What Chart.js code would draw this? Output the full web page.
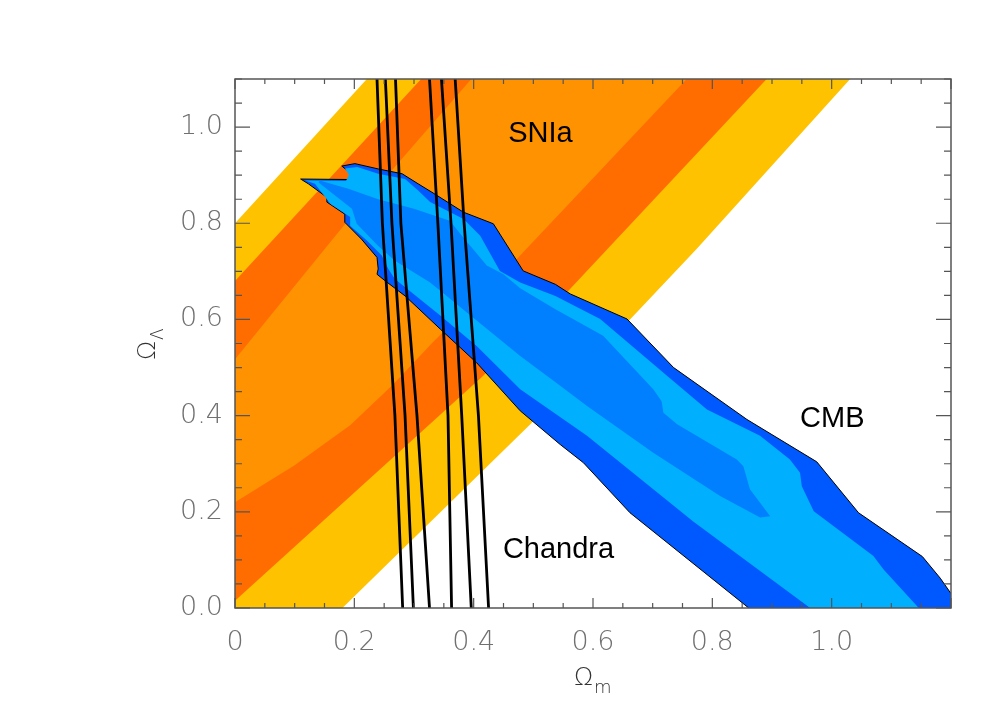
<!DOCTYPE html>
<html>
<head>
<meta charset="utf-8">
<script src="https://cdn.jsdelivr.net/npm/chart.js@4/dist/chart.umd.min.js"></script>
<style>
  html, body { margin: 0; background: #fff; }
</style>
</head>
<body>
<canvas id="chart" width="999" height="706"></canvas>
<script>
// --- data (Omega_m, Omega_Lambda) ---

// SNIa confidence bands, outer (99%) to inner (68%)
const sniaOuter = [[-0.1, 0.66], [0, 0.8], [0.221, 1.1], [0.26, 1.16], [1.075, 1.16], [1.031, 1.1],
  [0.774, 0.747], [0.662, 0.6], [0.495, 0.382], [0.18, 0], [0.1, -0.1], [-0.1, -0.1]];
const sniaMid = [[-0.1, 0.545], [0, 0.68], [0.312, 1.1], [0.35, 1.16], [0.93, 1.16], [0.891, 1.1],
  [0.556, 0.656], [0.416, 0.483], [0, 0.015], [-0.1, -0.1]];
const sniaInner = [[-0.1, 0.37], [0, 0.517], [0.182, 0.795], [0.396, 1.1], [0.44, 1.16], [0.81, 1.16],
  [0.757, 1.1], [0.472, 0.725], [0.332, 0.553], [0.265, 0.465], [0.193, 0.38], [0.1, 0.297],
  [0, 0.22], [-0.1, 0.15]];

// CMB contours
const cmbOuter = [[0.110, 0.892], [0.190, 0.891], [0.195, 0.903], [0.179, 0.919], [0.201, 0.924],
  [0.240, 0.913], [0.280, 0.903], [0.307, 0.882], [0.332, 0.863], [0.383, 0.823], [0.433, 0.799],
  [0.483, 0.701], [0.537, 0.673], [0.562, 0.653], [0.657, 0.601], [0.735, 0.500], [0.858, 0.392],
  [0.975, 0.304], [1.045, 0.198], [1.152, 0.107], [1.182, 0.062], [1.2, 0.03], [1.23, -0.02],
  [1.23, -0.07], [0.93, -0.07], [0.861, 0], [0.662, 0.198], [0.584, 0.302], [0.545, 0.34],
  [0.478, 0.41], [0.405, 0.51], [0.344, 0.58], [0.285, 0.649], [0.252, 0.680], [0.238, 0.694],
  [0.240, 0.705], [0.238, 0.729], [0.212, 0.767], [0.184, 0.802], [0.184, 0.819], [0.154, 0.844],
  [0.154, 0.854], [0.123, 0.882], [0.110, 0.892]];
const cmbMid = [[0.118, 0.889], [0.186, 0.888], [0.191, 0.901], [0.184, 0.914], [0.205, 0.917],
  [0.240, 0.903], [0.285, 0.892], [0.307, 0.868], [0.327, 0.844], [0.383, 0.809], [0.411, 0.774],
  [0.444, 0.701], [0.478, 0.677], [0.537, 0.649], [0.612, 0.601], [0.724, 0.483], [0.791, 0.413],
  [0.880, 0.358], [0.930, 0.309], [0.947, 0.281], [0.950, 0.253], [0.970, 0.201], [1.070, 0.108],
  [1.087, 0.080], [1.146, 0], [1.19, -0.06], [1.02, -0.06], [0.964, 0], [0.768, 0.18],
  [0.590, 0.358], [0.478, 0.455], [0.405, 0.545], [0.344, 0.608], [0.268, 0.684], [0.257, 0.705],
  [0.246, 0.733], [0.221, 0.764], [0.193, 0.795], [0.193, 0.813], [0.160, 0.840], [0.134, 0.882]];
const cmbInner = [[0.142, 0.889], [0.190, 0.872], [0.240, 0.850], [0.300, 0.830], [0.360, 0.805],
  [0.383, 0.770], [0.422, 0.712], [0.450, 0.694], [0.478, 0.665], [0.537, 0.621], [0.562, 0.604],
  [0.617, 0.566], [0.701, 0.455], [0.715, 0.430], [0.718, 0.406], [0.741, 0.382], [0.841, 0.309],
  [0.852, 0.295], [0.863, 0.247], [0.897, 0.191], [0.880, 0.188], [0.813, 0.233], [0.701, 0.323],
  [0.590, 0.420], [0.545, 0.462], [0.478, 0.524], [0.405, 0.598], [0.327, 0.677], [0.268, 0.722],
  [0.240, 0.753], [0.204, 0.799], [0.196, 0.830], [0.140, 0.885]];

// Chandra f_gas constraints: x at each Omega_Lambda level
const chandraY = [0, 0.4, 0.8, 1.1];
const chandraX = [
  [0.281, 0.268, 0.247, 0.238],
  [0.299, 0.285, 0.263, 0.252],
  [0.326, 0.305, 0.278, 0.269],
  [0.363, 0.357, 0.340, 0.326],
  [0.396, 0.380, 0.362, 0.346],
  [0.425, 0.408, 0.384, 0.369]
];

const labels = [
  { text: 'SNIa', x: 0.458, y: 0.969 },
  { text: 'CMB', x: 0.947, y: 0.376 },
  { text: 'Chandra', x: 0.449, y: 0.104 }
];

const colors = {
  yellow: '#FFC200',
  darkOrange: '#FF6C00',
  orange: '#FF9200',
  blueOuter: '#0058FF',
  blueMid: '#00B0FF',
  blueInner: '#0080FF'
};

// --- helpers ---
function polygon(pts, color, order, outline) {
  return {
    type: 'line',
    data: pts.map(p => ({ x: p[0], y: p[1] })),
    backgroundColor: color,
    borderColor: outline ? '#000' : 'transparent',
    borderWidth: outline ? 1 : 0,
    fill: 'shape',
    pointRadius: 0,
    tension: 0,
    order: order
  };
}

const datasets = [
  polygon(sniaOuter, colors.yellow, 20),
  polygon(sniaMid, colors.darkOrange, 19),
  polygon(sniaInner, colors.orange, 18),
  polygon(cmbOuter, colors.blueOuter, 17, true),
  polygon(cmbMid, colors.blueMid, 16),
  polygon(cmbInner, colors.blueInner, 15)
];
chandraX.forEach((xs, i) => {
  datasets.push({
    type: 'line',
    data: xs.map((x, j) => ({ x: x, y: chandraY[j] })),
    borderColor: '#000',
    borderWidth: 2.8,
    fill: false,
    pointRadius: 0,
    tension: 0,
    order: 5 - i * 0.1
  });
});

const onStep = v => Math.abs(v / 0.2 - Math.round(v / 0.2)) < 1e-6;
const tickFont = { family: 'DejaVu Sans', size: 27, weight: '200' };

// frame, inward tick marks, axis titles and region labels
const decorations = {
  id: 'decorations',
  afterDatasetsDraw(chart) {
    const { ctx, chartArea: a, scales: { x, y } } = chart;
    ctx.save();
    ctx.strokeStyle = '#555';
    ctx.lineWidth = 1.2;
    ctx.beginPath();
    for (let i = 0; i <= 24; i++) {
      const px = x.getPixelForValue(i * 0.05);
      const len = i % 4 === 0 ? 10 : 5;
      ctx.moveTo(px, a.bottom); ctx.lineTo(px, a.bottom - len);
      ctx.moveTo(px, a.top); ctx.lineTo(px, a.top + len);
    }
    for (let i = 0; i <= 22; i++) {
      const py = y.getPixelForValue(i * 0.05);
      const len = i % 4 === 0 ? 15 : 7;
      ctx.moveTo(a.left, py); ctx.lineTo(a.left + len, py);
      ctx.moveTo(a.right, py); ctx.lineTo(a.right - len, py);
    }
    ctx.stroke();
    ctx.lineWidth = 1.5;
    ctx.strokeRect(a.left, a.top, a.right - a.left, a.bottom - a.top);

    ctx.fillStyle = '#000';
    ctx.font = '29px "Liberation Sans"';
    ctx.textBaseline = 'alphabetic';
    labels.forEach(l => ctx.fillText(l.text, x.getPixelForValue(l.x), y.getPixelForValue(l.y)));
    ctx.restore();
  },
  afterDraw(chart) {
    const { ctx } = chart;
    ctx.save();
    ctx.fillStyle = '#333';
    ctx.textBaseline = 'alphabetic';
    // x title: Omega_m
    ctx.font = '200 25px "DejaVu Sans"';
    ctx.fillText('Ω', 574, 685);
    let w = ctx.measureText('Ω').width;
    ctx.font = '200 18px "DejaVu Sans"';
    ctx.fillText('m', 574 + w + 1, 693);
    // y title: Omega_Lambda
    ctx.translate(155, 360);
    ctx.rotate(-Math.PI / 2);
    ctx.font = '200 25px "DejaVu Sans"';
    ctx.fillText('Ω', 0, 0);
    w = ctx.measureText('Ω').width;
    ctx.font = '200 17px "DejaVu Sans"';
    ctx.fillText('Λ', w + 1, 8);
    ctx.restore();
  }
};

new Chart(document.getElementById('chart'), {
  type: 'line',
  data: { datasets: datasets },
  options: {
    responsive: false,
    devicePixelRatio: 1,
    animation: false,
    events: [],
    layout: { padding: { left: 0, top: 79, right: 48, bottom: 38 } },
    plugins: { legend: { display: false }, tooltip: { enabled: false } },
    scales: {
      x: {
        type: 'linear', min: 0, max: 1.2,
        afterFit(s) { s.height = 60; },
        grid: { display: false, drawTicks: false },
        border: { display: false },
        ticks: {
          stepSize: 0.2, padding: 19, maxRotation: 0, autoSkip: false,
          color: '#707070', font: tickFont,
          callback: v => (!onStep(v) || v > 1.1) ? '' : (v === 0 ? '0' : v.toFixed(1))
        }
      },
      y: {
        type: 'linear', min: 0, max: 1.1,
        afterFit(s) { s.width = 235; },
        grid: { display: false, drawTicks: false },
        border: { display: false },
        ticks: {
          stepSize: 0.2, padding: 12, autoSkip: false,
          color: '#707070', font: tickFont,
          callback: v => onStep(v) ? v.toFixed(1) : ''
        }
      }
    }
  },
  plugins: [decorations]
});
</script>
</body>
</html>
